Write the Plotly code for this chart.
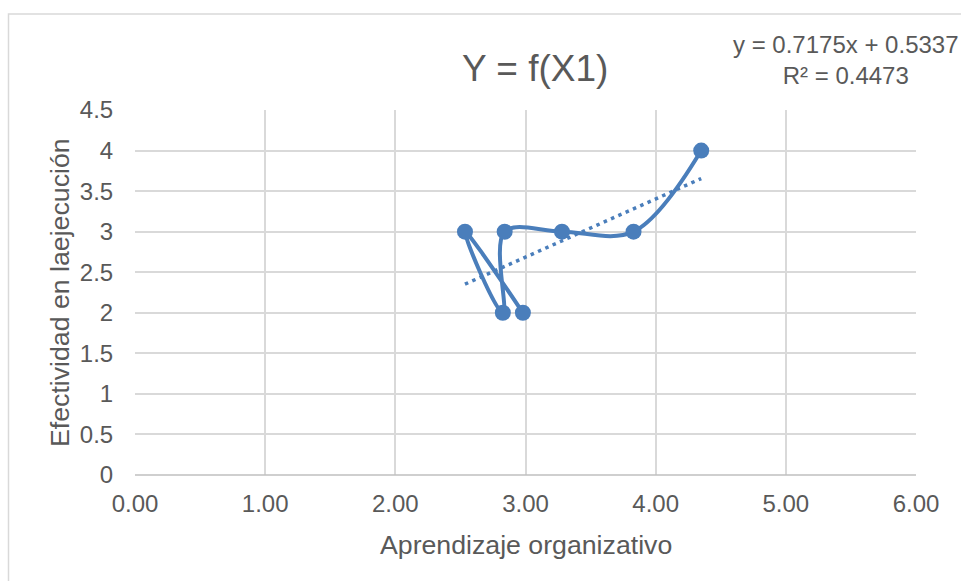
import plotly.graph_objects as go

# Data
x_vals = [2.98, 2.535, 2.826, 2.84, 3.28, 3.83, 4.35]
y_vals = [2, 3, 2, 3, 3, 3, 4]
slope = 0.7175
intercept = 0.5337
r2 = 0.4473
x_ticks = [0, 1, 2, 3, 4, 5, 6]
y_ticks = [0, 0.5, 1, 1.5, 2, 2.5, 3, 3.5, 4, 4.5]

title_text = "Y = f(X1)"
x_title = "Aprendizaje organizativo"
y_title = "Efectividad en laejecución"

blue = "#4a7ebb"
txt = "#595959"
font_family = "Liberation Sans, Arial, sans-serif"

trend_x = [min(x_vals), max(x_vals)]
trend_y = [slope * v + intercept for v in trend_x]

fig = go.Figure()
fig.add_trace(go.Scatter(
    x=trend_x, y=trend_y, mode="lines",
    line=dict(color=blue, width=3.5, dash="3.5px,4.5px"),
    hoverinfo="skip", showlegend=False,
))
fig.add_trace(go.Scatter(
    x=x_vals, y=y_vals, mode="lines+markers",
    line=dict(color=blue, width=4, shape="spline", smoothing=1),
    marker=dict(color=blue, size=16),
    showlegend=False,
))

L, R, T, B = 135, 45, 110, 106
W, H = 961, 581
pw, ph = W - L - R, H - T - B

def px_x(p):
    return (p - L) / pw

def px_y(p):
    return (H - B - p) / ph

fig.update_layout(
    width=W, height=H,
    margin=dict(l=L, r=R, t=T, b=B, pad=0),
    paper_bgcolor="white", plot_bgcolor="white",
    font=dict(family=font_family, color=txt, size=24),
    xaxis=dict(
        range=[0, 6], tickvals=x_ticks, tickformat=".2f",
        showgrid=True, gridcolor="#d9d9d9", gridwidth=1.5,
        zeroline=False, showline=False,
        ticks="outside", ticklen=7, tickcolor="rgba(0,0,0,0)",
        tickfont=dict(size=24, color=txt, family=font_family),
        fixedrange=True,
    ),
    yaxis=dict(
        range=[0, 4.5], tickvals=y_ticks,
        showgrid=True, gridcolor="#d9d9d9", gridwidth=1.5,
        zeroline=False, showline=False,
        ticks="outside", ticklen=16, tickcolor="rgba(0,0,0,0)",
        tickfont=dict(size=24, color=txt, family=font_family),
        fixedrange=True,
    ),
    shapes=[
        # outer chart border
        dict(type="rect", xref="paper", yref="paper",
             x0=px_x(8.5), x1=px_x(990), y0=px_y(620), y1=px_y(14),
             line=dict(color="#d9d9d9", width=1.5), layer="below"),
        # bottom axis line
        dict(type="line", xref="paper", yref="paper",
             x0=0, x1=1, y0=0, y1=0,
             line=dict(color="#bfbfbf", width=1.5)),
    ],
    annotations=[
        dict(text=title_text, xref="paper", yref="paper",
             x=px_x(535), y=px_y(68), xanchor="center", yanchor="middle",
             showarrow=False, font=dict(size=37, color=txt, family=font_family)),
        dict(text=f"y = {slope}x + {intercept}<br>R² = {r2}", xref="paper", yref="paper",
             x=px_x(846), y=px_y(60), xanchor="center", yanchor="middle", align="center",
             showarrow=False, font=dict(size=24, color=txt, family=font_family)),
        dict(text=x_title, xref="paper", yref="paper",
             x=px_x(526), y=px_y(545), xanchor="center", yanchor="middle",
             showarrow=False, font=dict(size=26.7, color=txt, family=font_family)),
        dict(text=y_title, xref="paper", yref="paper",
             x=px_x(60), y=px_y(293), xanchor="center", yanchor="middle",
             textangle=-90, showarrow=False,
             font=dict(size=26.7, color=txt, family=font_family)),
    ],
)

fig.write_html("out.html", config={"displayModeBar": False})
